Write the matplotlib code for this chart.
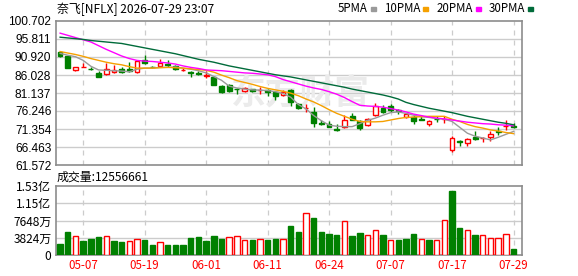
import matplotlib
matplotlib.use("Agg")
import matplotlib.pyplot as plt
from matplotlib.patches import Rectangle
import numpy as np

plt.rcParams['font.family'] = ['Noto Sans CJK SC', 'DejaVu Sans']

# trading days shown
dates = ["05-04", "05-05", "05-06", "05-07", "05-08", "05-11", "05-12", "05-13", "05-14", "05-15",
         "05-18", "05-19", "05-20", "05-21", "05-22", "05-26", "05-27", "05-28", "05-29", "06-01",
         "06-02", "06-03", "06-04", "06-05", "06-08", "06-09", "06-10", "06-11", "06-12", "06-15",
         "06-16", "06-17", "06-18", "06-22", "06-23", "06-24", "06-25", "06-26", "06-29", "06-30",
         "07-01", "07-02", "07-06", "07-07", "07-08", "07-09", "07-10", "07-13", "07-14", "07-15",
         "07-16", "07-17", "07-20", "07-21", "07-22", "07-23", "07-24", "07-27", "07-28", "07-29"]

opens = [92.2, 91.2, 87.3, 88.1, 87.7, 86.7, 86.2, 86.8, 87.6, 87.7,
         86.8, 90.1, 88.3, 88.6, 89.0, 88.6, 87.4, 86.9, 86.6, 85.8,
         85.4, 83.1, 83.4, 82.2, 81.8, 82.1, 81.9, 81.9, 81.5, 80.6,
         82.0, 78.2, 77.0, 76.0, 72.9, 72.8, 71.4, 71.9, 74.8, 73.4,
         72.5, 75.2, 77.0, 77.7, 76.4, 74.5, 74.5, 74.0, 72.7, 74.2,
         74.0, 65.7, 68.1, 67.5, 69.3, 68.8, 69.3, 70.7, 72.1, 72.1]
highs = [92.4, 91.3, 88.3, 89.4, 88.2, 87.2, 89.2, 88.8, 88.3, 89.6,
         90.0, 91.5, 88.5, 90.4, 90.2, 88.8, 88.0, 87.2, 87.0, 87.0,
         85.8, 83.3, 83.5, 82.4, 82.9, 82.2, 82.7, 82.2, 81.8, 81.9,
         82.2, 78.4, 78.1, 77.2, 73.9, 73.4, 72.7, 75.2, 75.8, 73.9,
         74.3, 78.4, 77.8, 78.1, 76.9, 75.7, 75.2, 75.2, 73.85, 74.8,
         74.8, 69.5, 68.4, 68.9, 70.7, 69.3, 70.7, 71.8, 73.85, 72.95]
lows = [91.0, 87.8, 87.0, 88.1, 87.5, 85.4, 86.0, 86.5, 86.7, 86.9,
        86.5, 88.9, 87.8, 88.1, 88.3, 87.4, 87.0, 85.6, 85.9, 85.2,
        83.2, 81.2, 81.5, 80.9, 81.4, 81.5, 80.9, 80.3, 79.3, 80.4,
        77.6, 76.7, 76.1, 71.8, 72.5, 71.9, 70.9, 71.5, 73.7, 71.0,
        72.2, 74.9, 75.8, 76.1, 75.3, 74.3, 72.7, 73.7, 72.3, 73.2,
        73.1, 65.1, 66.6, 66.8, 68.4, 67.8, 68.2, 69.8, 71.1, 71.6]
closes = [91.3, 88.0, 88.25, 88.15, 87.6, 85.6, 87.6, 87.5, 86.95, 87.1,
          89.8, 89.4, 88.2, 89.4, 88.8, 87.6, 87.5, 86.7, 86.4, 85.9,
          83.4, 81.45, 81.7, 82.1, 82.6, 81.7, 82.0, 81.4, 80.4, 81.5,
          78.8, 77.0, 77.1, 73.0, 72.8, 72.0, 71.1, 73.9, 73.8, 71.6,
          74.0, 77.5, 76.1, 76.6, 76.2, 75.4, 73.4, 73.9, 73.6, 74.1,
          74.2, 68.9, 67.95, 68.6, 68.55, 68.9, 70.05, 70.6, 72.2, 72.0]
prev_close = 92.0

ma5 = [91.9, 91.4, 91.0, 90.0, 88.4, 87.4, 87.3, 87.2, 87.1, 86.9,
       87.6, 87.9, 87.9, 88.1, 88.1, 88.2, 87.9, 87.6, 87.2, 86.6,
       85.6, 84.6, 83.0, 82.5, 82.2, 82.0, 81.9, 81.8, 81.5, 81.0,
       80.0, 78.0, 76.8, 75.0, 73.6, 72.4, 72.1, 72.0, 72.0, 72.8,
       73.7, 74.3, 75.1, 75.8, 76.0, 75.6, 75.1, 74.7, 74.5, 74.2,
       74.0, 73.4, 71.8, 70.2, 69.4, 68.9, 68.4, 69.1, 69.9, 70.7]
ma10 = [92.4, 92.0, 91.6, 91.1, 90.5, 90.0, 89.5, 89.1, 88.8, 88.3,
        87.9, 87.9, 87.9, 88.0, 88.1, 88.0, 87.9, 87.7, 87.5, 87.3,
        86.8, 86.0, 85.3, 84.5, 84.0, 83.5, 82.9, 82.4, 82.0, 81.6,
        81.1, 80.4, 79.5, 78.7, 77.7, 76.6, 75.6, 74.8, 74.0, 73.4,
        73.3, 73.3, 73.4, 73.8, 74.2, 74.5, 74.6, 74.7, 74.8, 74.8,
        74.8, 74.0, 73.4, 72.6, 72.0, 71.6, 71.1, 70.8, 70.4, 70.1]
ma20 = [97.4, 96.8, 96.2, 95.6, 95.0, 94.0, 93.0, 92.1, 91.2, 90.5,
        90.0, 89.8, 89.7, 89.5, 89.3, 89.0, 88.5, 88.1, 87.8, 87.4,
        87.3, 87.2, 87.0, 86.8, 86.6, 86.5, 86.3, 86.1, 85.6, 84.8,
        84.2, 83.6, 83.0, 82.5, 82.1, 81.5, 80.8, 79.9, 78.8, 77.8,
        77.6, 77.5, 77.3, 76.9, 76.5, 76.0, 75.4, 75.0, 74.6, 74.3,
        74.1, 73.8, 73.5, 73.2, 73.0, 72.8, 72.7, 72.5, 72.4, 72.2]
ma30 = [96.3, 96.1, 95.9, 95.7, 95.4, 95.2, 95.0, 94.8, 94.6, 94.2,
        93.8, 93.4, 93.0, 92.6, 92.2, 91.8, 91.3, 90.8, 90.3, 89.9,
        89.5, 89.0, 88.5, 88.1, 87.7, 87.3, 86.9, 86.5, 86.1, 85.8,
        85.5, 85.1, 84.7, 84.3, 83.9, 83.5, 83.1, 82.7, 82.2, 81.8,
        81.4, 81.0, 80.6, 80.1, 79.5, 78.6, 78.0, 77.5, 77.0, 76.6,
        76.2, 75.8, 75.3, 74.8, 74.4, 74.0, 73.6, 73.2, 72.9, 72.5]

# volume in 万 shares
volumes = [2439, 5099, 4212, 3104, 3547, 3990, 4212, 3178, 2882, 3104,
           3473, 3326, 2217, 2882, 2217, 2217, 2217, 3769, 3990, 3104,
           4212, 3547, 3917, 4138, 3326, 3326, 3473, 3326, 3547, 3547,
           6429, 5099, 9238, 8203, 5099, 4656, 4434, 7464, 4212, 4877,
           4360, 5469, 4434, 3326, 3326, 3547, 4656, 3473, 3326, 3326,
           7686, 14189, 5986, 5469, 4434, 4360, 3695, 3695, 4656, 1255.6661]

price_ticks = ["61.572", "66.463", "71.354", "76.246", "81.137", "86.028", "90.920", "95.811", "100.702"]
vol_ticks = [0, 3824, 7648, 11472, 15296]
vol_labels = ["0", "3824万", "7648万", "1.15亿", "1.53亿"]
ma_names = ["5PMA", "10PMA", "20PMA", "30PMA"]

RED = "#ff0000"
GREEN = "#008000"
ma_colors = ["#9a9a9a", "#f5a000", "#ff00ff", "#006b3a"]
GRID = "#cccccc"

x = np.arange(len(closes))
o = np.array(opens); c = np.array(closes); h = np.array(highs); l = np.array(lows)
up = c >= o
vol_up = c >= np.concatenate([[prev_close], c[:-1]])

fig = plt.figure(figsize=(5.78, 2.76), dpi=100)
L = 55.5 / 578
W = (522 - 55.5) / 578
ax = fig.add_axes([L, 1 - 165 / 276, W, 144 / 276])
axv = fig.add_axes([L, 1 - 255 / 276, W, 69 / 276])

tick_idx = list(range(3, len(dates), 8))

for a in (ax, axv):
    a.set_xlim(-0.6, 60.1)
    for s in a.spines.values():
        s.set_color("#8c8c8c")
        s.set_linewidth(1.2)
    a.tick_params(length=0, pad=3)
    a.set_xticks(tick_idx)
    for t in tick_idx:
        a.axvline(t, color=GRID, lw=0.9, ls=(0, (4, 4)), zorder=0)

# price panel
pt = [float(v) for v in price_ticks]
ax.set_ylim(pt[0], pt[-1])
ax.set_yticks(pt)
ax.set_yticklabels(price_ticks, family="Liberation Sans", fontsize=8.6)
ax.set_xticklabels([])
for v in pt[1:-1]:
    ax.axhline(v, color=GRID, lw=1, zorder=0)

ax.text(0.52, 1 - 93 / 276, "东方财富", transform=fig.transFigure, ha="center", va="center",
        fontsize=25, fontweight="bold", color="#ebebeb", zorder=0.5)

for i in x:
    col = RED if up[i] else GREEN
    top, bot = max(o[i], c[i]), min(o[i], c[i])
    ax.vlines(i, top, h[i], color=col, lw=1, zorder=2)
    ax.vlines(i, l[i], bot, color=col, lw=1, zorder=2)
ax.bar(x, np.abs(c - o), bottom=np.minimum(o, c), width=0.62,
       color=np.where(up, "white", GREEN), edgecolor=np.where(up, RED, GREEN), lw=1, zorder=3)

for vals, colr in zip([ma5, ma10, ma20, ma30], ma_colors):
    ax.plot(x, vals, color=colr, lw=1, zorder=4)

# volume panel
axv.set_ylim(0, vol_ticks[-1])
axv.set_yticks(vol_ticks)
axv.set_yticklabels(vol_labels, fontsize=8.6)
for v in vol_ticks[1:-1]:
    axv.axhline(v, color=GRID, lw=1, zorder=0)
axv.bar(x, volumes, width=0.7, color=np.where(vol_up, "white", GREEN),
        edgecolor=np.where(vol_up, RED, GREEN), lw=1, zorder=3)
axv.set_xticklabels([dates[i] for i in tick_idx], color=RED, fontsize=8.3)

# header texts
fig.text(57 / 578, 1 - 9 / 276, "奈飞[NFLX] 2026-07-29 23:07", fontsize=8.6, va="center", ha="left")
fig.text(57 / 578, 1 - 177 / 276, "成交量:%d" % round(volumes[-1] * 10000), fontsize=8.6, va="center", ha="left")

lx = 338
for name, colr in zip(ma_names, ma_colors):
    t = fig.text(lx / 578, 1 - 9 / 276, name, fontsize=8.3, va="center", ha="left")
    fig.canvas.draw()
    bb = t.get_window_extent()
    rx = bb.x1 + 3
    fig.patches.append(Rectangle(((rx) / 578, 1 - 10.5 / 276), 5 / 578, 3 / 276,
                                 transform=fig.transFigure, color=colr, figure=fig))
    lx = rx + 13

fig.savefig("out.png", dpi=100)
